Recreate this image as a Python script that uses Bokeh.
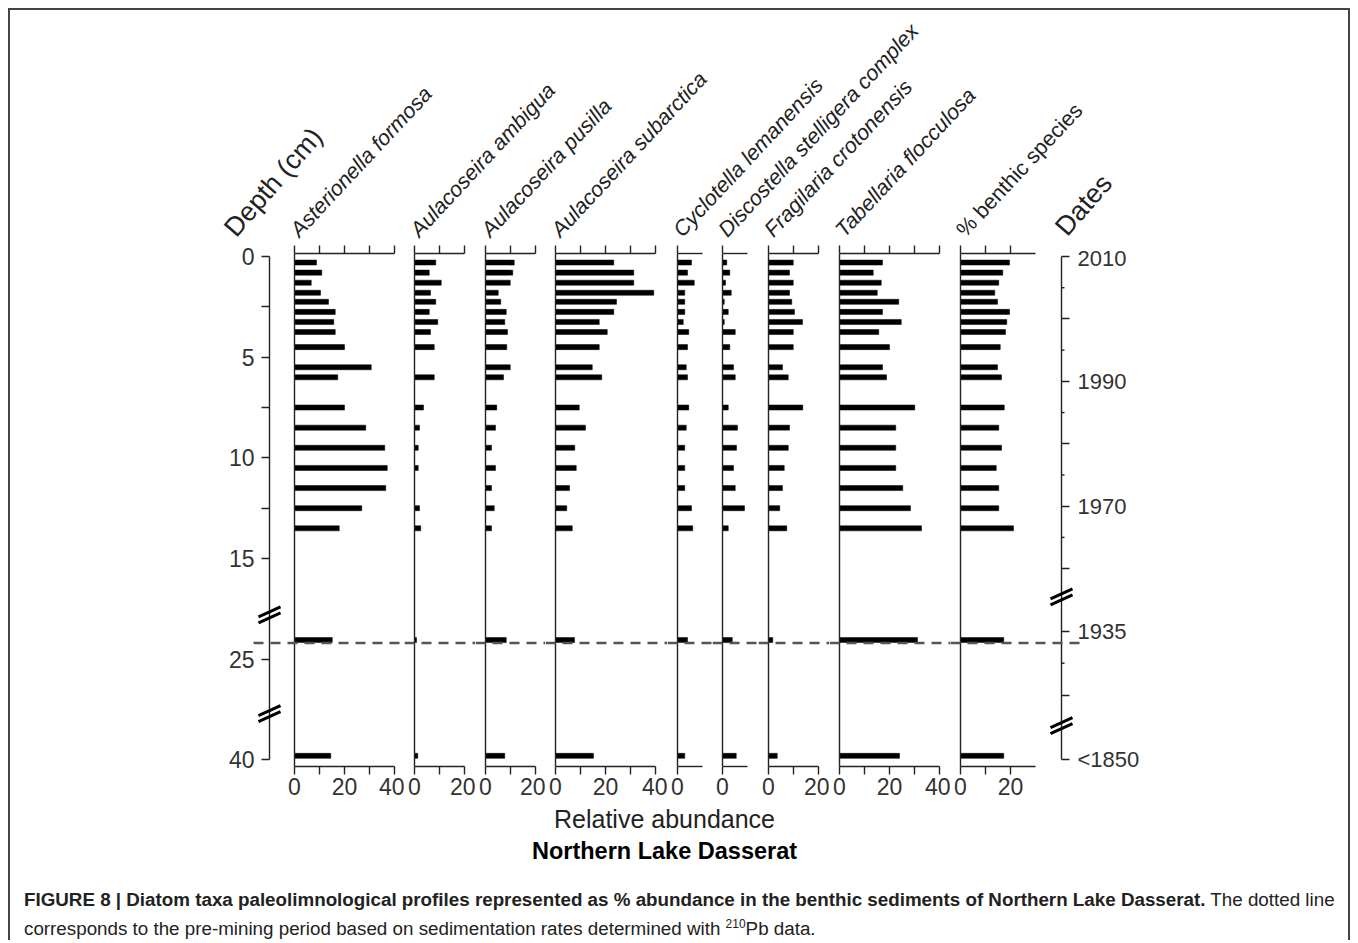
import math
from bokeh.plotting import figure
from bokeh.models import Range1d, LinearAxis, FixedTicker, Span, ColumnDataSource, Div, Label
from bokeh.layouts import row, column
from bokeh.embed import file_html
from bokeh.resources import INLINE

# ---------------- data ----------------
# sample positions on the (broken) depth axis
sample_pos = [0.3, 0.8, 1.3, 1.8, 2.25, 2.75, 3.25, 3.75, 4.5, 5.5, 6.0,
              7.5, 8.5, 9.5, 10.5, 11.5, 12.5, 13.5, 19.05, 24.8]

taxa = ["Asterionella formosa", "Aulacoseira ambigua", "Aulacoseira pusilla",
        "Aulacoseira subarctica", "Cyclotella lemanensis",
        "Discostella stelligera complex", "Fragilaria crotonensis",
        "Tabellaria flocculosa", "% benthic species"]
taxa_italic = [True, True, True, True, True, True, True, True, False]

asterionella = [8.8, 10.9, 6.7, 10.4, 13.6, 16.3, 15.7, 16.3, 20.0, 30.7, 17.3,
                20.0, 28.5, 36.1, 37.1, 36.5, 26.9, 17.9, 15.1, 14.5]
ambigua = [8.5, 5.9, 10.7, 6.4, 8.5, 5.9, 9.3, 6.4, 7.9, 0.0, 7.9,
           3.6, 2.0, 1.5, 1.5, 0.0, 2.0, 2.5, 0.8, 1.3]
pusilla = [11.5, 10.9, 9.9, 5.1, 6.1, 8.3, 7.7, 8.8, 8.5, 9.9, 7.2,
           4.5, 4.0, 2.4, 4.0, 2.4, 3.5, 2.4, 8.3, 7.7]
subarctica = [23.3, 31.3, 31.3, 39.3, 24.4, 23.3, 17.5, 20.7, 17.5, 14.7, 18.5,
              9.5, 12.0, 7.7, 8.3, 5.6, 4.5, 6.7, 7.6, 15.2]
cyclotella = [5.6, 4.0, 6.7, 2.9, 2.9, 2.9, 2.3, 4.5, 4.0, 3.5, 4.0,
              4.5, 3.5, 2.9, 2.9, 2.9, 5.6, 6.1, 4.0, 2.9]
discostella = [1.7, 2.9, 1.2, 3.5, 0.7, 2.3, 0.7, 5.1, 2.9, 4.4, 5.1,
               2.3, 6.0, 5.6, 4.4, 5.1, 8.8, 2.3, 3.9, 5.5]
fragilaria = [9.9, 8.4, 9.9, 8.4, 9.3, 10.4, 13.6, 9.9, 9.9, 5.6, 7.9,
              13.7, 8.4, 7.9, 6.3, 5.6, 4.5, 7.3, 1.7, 3.5]
tabellaria = [17.2, 13.5, 16.7, 15.1, 23.7, 17.2, 24.7, 15.7, 20.0, 17.2, 18.8,
              30.1, 22.5, 22.5, 22.5, 25.3, 28.4, 32.8, 31.2, 24.0]
benthic = [19.6, 16.9, 15.3, 13.7, 14.8, 19.6, 18.5, 18.0, 15.9, 14.8, 16.4,
           17.5, 15.3, 16.4, 14.3, 15.3, 15.3, 21.2, 17.3, 17.3]

series = [asterionella, ambigua, pusilla, subarctica, cyclotella,
          discostella, fragilaria, tabellaria, benthic]

axis_max = [40, 20, 20, 40, 10, 10, 20, 40, 30]
axis_all_ticks = [[0, 10, 20, 30, 40], [0, 10, 20], [0, 10, 20], [0, 10, 20, 30, 40],
                  [0], [0], [0, 10, 20], [0, 10, 20, 30, 40], [0, 10, 20]]
axis_major = [[0, 20, 40], [0, 20], [0, 20], [0, 20, 40], [0], [0], [0, 20], [0, 20, 40], [0, 20]]
axis_minor = [[10, 30], [10], [10], [10, 30], [], [], [10], [10, 30], [10]]

depth_major = [0, 5, 10, 15, 20, 25]
depth_minor = [2.5, 7.5, 12.5]
depth_labels = {0: "0", 5: "5", 10: "10", 15: "15", 20: "25", 25: "40"}

date_major = [0, 6.2, 12.4, 18.6, 25]
date_minor = [3.1, 9.3, 15.5, 21.8]            # long unlabelled ticks
date_short = [1.55, 4.65, 7.75, 10.85, 13.95, 20.2]  # short ticks
date_labels = {0: "2010", 6.2: "1990", 12.4: "1970", 18.6: "1935", 25: "<1850"}

depth_breaks = [17.8, 22.7]
date_breaks = [16.9, 23.3]
premining_pos = 19.19

# ---------------- layout constants ----------------
FONT = "Liberation Sans"
INK = "#222222"
PX = 2.5                      # screen px per % unit
X0, Y0 = 10, 10               # page origin of the content
TOTAL_W = 1338
HDR_H = 235
PANEL_H = 561
BORDER_TOP, BORDER_BOTTOM = 8, 40
Y_RANGE = (25.33, -0.15)      # flipped: depth increases downward
FRAME_H = PANEL_H - BORDER_TOP - BORDER_BOTTOM
PX_Y = FRAME_H / (Y_RANGE[0] - Y_RANGE[1])

frame_lefts = [269, 404, 475, 545, 667, 712, 758, 829, 950]
frame_rights = [404, 475, 545, 667, 712, 758, 829, 950, 1061]
zeros = [294, 414, 485, 555, 677, 722, 768, 839, 960]


def style_axis(ax, font_size="23px"):
    ax.axis_line_color = INK
    ax.axis_line_width = 1.4
    ax.major_tick_line_color = INK
    ax.minor_tick_line_color = INK
    ax.major_tick_line_width = 1.4
    ax.minor_tick_line_width = 1.4
    ax.major_tick_in = 0
    ax.minor_tick_in = 0
    ax.major_tick_out = 8
    ax.minor_tick_out = 8
    ax.major_label_text_font = FONT
    ax.major_label_text_color = "#333333"
    ax.major_label_text_font_size = font_size
    ax.major_label_standoff = 3


panels = []
n = len(series)
for i in range(n):
    fl, fr, z = frame_lefts[i], frame_rights[i], zeros[i]
    xs, xe = (fl - z) / PX, (fr - z) / PX
    bl = fl - X0 if i == 0 else 0
    br = (X0 + TOTAL_W) - fr if i == n - 1 else 0
    w = (fr - fl) + bl + br
    p = figure(width=w, height=PANEL_H, x_range=Range1d(xs, xe),
               y_range=Range1d(*Y_RANGE), output_backend="svg",
               toolbar_location=None, x_axis_location=None, y_axis_location=None,
               min_border=0, min_border_left=bl, min_border_right=br,
               min_border_top=BORDER_TOP, min_border_bottom=BORDER_BOTTOM,
               outline_line_color=None, background_fill_color="white",
               border_fill_color="white")
    p.grid.visible = False

    # top axis: ticks only (all as minor ticks, so no labels)
    top = LinearAxis(ticker=FixedTicker(ticks=[], minor_ticks=axis_all_ticks[i]),
                     bounds=(0, axis_max[i]))
    style_axis(top)
    top.major_label_standoff = 0
    p.add_layout(top, "above")
    bot = LinearAxis(ticker=FixedTicker(ticks=axis_major[i], minor_ticks=axis_minor[i]),
                     bounds=(0, axis_max[i]))
    style_axis(bot)
    p.add_layout(bot, "below")

    p.add_layout(Span(location=0, dimension="height", line_color=INK, line_width=1.4))

    src = ColumnDataSource(dict(pos=sample_pos, val=series[i]))
    p.hbar(y="pos", left=0, right="val", height=0.25, source=src,
           fill_color="black", line_color="black", line_width=0.5)

    # pre-mining dashed line
    dash = dict(line_color="#555555", line_width=2.5, line_dash="10 7")
    if i == 0:
        p.segment(x0=(253 - z) / PX, x1=xe, y0=premining_pos, y1=premining_pos,
                  level="overlay", **dash)
    elif i == n - 1:
        p.segment(x0=xs, x1=(1080 - z) / PX, y0=premining_pos, y1=premining_pos,
                  level="overlay", **dash)
    else:
        p.add_layout(Span(location=premining_pos, dimension="width", **dash))

    if i == 0:
        dax = LinearAxis(ticker=FixedTicker(ticks=depth_major, minor_ticks=depth_minor),
                         bounds=(0, 25), major_label_overrides=depth_labels)
        style_axis(dax)
        dax.major_label_standoff = 7
        p.add_layout(dax, "left")
        axis_x, breaks = xs, depth_breaks
    if i == n - 1:
        rax = LinearAxis(ticker=FixedTicker(ticks=date_major, minor_ticks=date_minor),
                         bounds=(0, 25), major_label_overrides=date_labels)
        style_axis(rax, "22px")
        rax.major_label_standoff = 8
        p.add_layout(rax, "right")
        axis_x, breaks = xe, date_breaks
        # short 5-year ticks
        p.segment(x0=[xe] * len(date_short), x1=[xe + 3 / PX] * len(date_short),
                  y0=date_short, y1=date_short, line_color=INK, line_width=1.4,
                  level="overlay")
    if i in (0, n - 1):
        x0s, x1s, y0s, y1s = [], [], [], []
        for b in breaks:
            for off in (-3, 3):
                x0s.append(axis_x - 11 / PX)
                x1s.append(axis_x + 11 / PX)
                y0s.append(b + (5 + off) / PX_Y)
                y1s.append(b + (-5 + off) / PX_Y)
        p.segment(x0=x0s, x1=x1s, y0=y0s, y1=y1s, line_color="black",
                  line_width=3, level="overlay")
    panels.append(p)

# ---------------- header with rotated titles ----------------
hdr = figure(width=TOTAL_W, height=HDR_H, x_range=Range1d(0, TOTAL_W),
             y_range=Range1d(HDR_H, 0), output_backend="svg", toolbar_location=None,
             x_axis_location=None, y_axis_location=None, min_border=0,
             outline_line_color=None)
hdr.grid.visible = False
ANG = math.radians(47)
for k in range(n):
    hdr.add_layout(Label(x=zeros[k] - X0, y=233 - Y0, text=taxa[k], angle=ANG,
                         text_font=FONT, text_font_size="21.5px",
                         text_font_style="italic" if taxa_italic[k] else "normal",
                         text_color=INK, text_align="left", text_baseline="alphabetic"))
for txt, px, py in (("Depth (cm)", 229, 232), ("Dates", 1060, 231)):
    hdr.add_layout(Label(x=px - X0, y=py - Y0, text=txt, angle=math.radians(49),
                         text_font=FONT, text_font_size="27px", text_color=INK,
                         text_align="left", text_baseline="alphabetic"))

# ---------------- footer ----------------
FOOT_H = 64
foot = figure(width=TOTAL_W, height=FOOT_H, x_range=Range1d(0, TOTAL_W),
              y_range=Range1d(FOOT_H, 0), output_backend="svg", toolbar_location=None,
              x_axis_location=None, y_axis_location=None, min_border=0,
              outline_line_color=None)
foot.grid.visible = False
foot.add_layout(Label(x=664 - X0, y=12, text="Relative abundance", text_font=FONT,
                      text_font_size="25px", text_color=INK, text_align="center",
                      text_baseline="middle"))
foot.add_layout(Label(x=664 - X0, y=44, text="Northern Lake Dasserat", text_font=FONT,
                      text_font_size="23.5px", text_font_style="bold", text_color="black",
                      text_align="center", text_baseline="middle"))

cap = Div(text=(
    '<div style="margin:12px 0 0 9px; font-family:\'Liberation Sans\', Arial, sans-serif;'
    ' font-size:18.8px; line-height:25px; color:#222; white-space:nowrap;">'
    '<b>FIGURE 8 | Diatom taxa paleolimnological profiles represented as % abundance '
    'in the benthic sediments of Northern Lake Dasserat.</b> The dotted line<br>'
    'corresponds to the pre-mining period based on sedimentation rates determined with '
    '<sup style="font-size:12px">210</sup>Pb data.</div>'),
    width=TOTAL_W, height=60)

layout = column(hdr, row(*panels), foot, cap, width=TOTAL_W + 4,
                styles={"margin-left": "8px", "margin-top": "8px",
                        "border-top": "2px solid #444", "border-left": "2px solid #444",
                        "border-right": "2px solid #444"})

open("out.html", "w").write(file_html(layout, INLINE))
